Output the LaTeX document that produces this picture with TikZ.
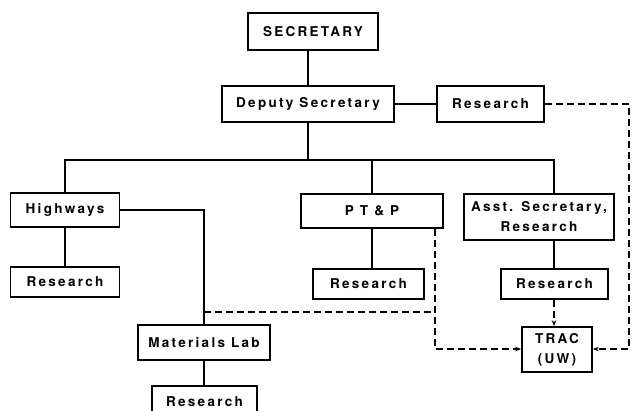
\documentclass[tikz,border=0pt]{standalone}
\usepackage{fontspec}
\setmainfont{TeX Gyre Heros}[LetterSpace=17]
\usetikzlibrary{arrows.meta}
\begin{document}
\begin{tikzpicture}[x=1pt,y=-1pt]
\tikzset{
 box/.style={draw, line width=1.7pt, inner sep=0pt, fill=white,
   font=\bfseries\fontsize{13.5}{20}\selectfont, align=center},
 conn/.style={line width=1.2pt},
 dconn/.style={line width=1.2pt, dash pattern=on 7pt off 4pt},
 arr/.style={-{Stealth[length=6pt,width=4.5pt]}}
}
\useasboundingbox (0,0) rectangle (632,411);
\begin{scope}
\clip (0,0) rectangle (632,411);
\fill[white] (0,0) rectangle (632,411);
% nodes
\node[box, minimum width=130pt, minimum height=37pt] (sec) at (313,31.5) {SECRETARY};
\node[box, minimum width=172pt, minimum height=36pt] (dep) at (308,104) {Deputy Secretary};
\node[box, minimum width=107pt, minimum height=36pt] (rtop) at (490.5,104) {Research};
\node[box, minimum width=109pt, minimum height=34pt] (hw) at (65,210) {Highways};
\node[box, minimum width=109pt, minimum height=30pt] (hwr) at (65,282) {Research};
\node[box, minimum width=142pt, minimum height=34pt] (ptp) at (372,211) {P T \& P};
\node[box, minimum width=111pt, minimum height=30pt] (ptpr) at (368.5,284) {Research};
\node[box, minimum width=150pt, minimum height=46pt] (asst) at (539,217) {Asst. Secretary,\\Research};
\node[box, minimum width=107pt, minimum height=30pt] (asstr) at (554.5,284) {Research};
\node[box, minimum width=70pt, minimum height=45pt] (trac) at (557,349.5) {TRAC\\(UW)};
\node[box, minimum width=132pt, minimum height=35pt] (mat) at (204,342.5) {Materials Lab};
\node[box, minimum width=105pt, minimum height=31pt] (matr) at (204.5,401.5) {Research};
% helper coordinates
\coordinate (bus) at (0,160);
\coordinate (adrop) at (554,0);
\coordinate (dj) at (0,312);
\coordinate (px) at (435,0);
\coordinate (ty) at (0,349);
\coordinate (rx) at (629,0);
% solid connectors
\draw[conn] (dep.north) -- (dep.north |- sec.south);
\draw[conn] (dep.east) -- (rtop.west);
\draw[conn] (dep.south) -- (dep.south |- bus);
\draw[conn] (hw.north) -- (hw.north |- bus) -- (adrop |- bus) -- (adrop |- asst.north);
\draw[conn] (ptp.north) -- (ptp.north |- bus);
\draw[conn] (hw.south) -- (hwr.north);
\draw[conn] (ptp.south) -- (ptp.south |- ptpr.north);
\draw[conn] (adrop |- asst.south) -- (adrop |- asstr.north);
\draw[conn] (hw.east) -| (mat.north);
\draw[conn] (mat.south) -- (mat.south |- matr.north);
% dashed connectors
\draw[dconn, arr] (asstr.south -| adrop) -- (adrop |- trac.north);
\draw[dconn] (mat.north |- dj) -- (px |- dj);
\draw[dconn, arr] (px |- ptp.south) -- (px |- ty) -- (trac.west |- ty);
\draw[dconn, arr] (rtop.east) -- (rx |- rtop.east) -- (rx |- ty) -- (trac.east |- ty);
\end{scope}
\end{tikzpicture}
\end{document}
